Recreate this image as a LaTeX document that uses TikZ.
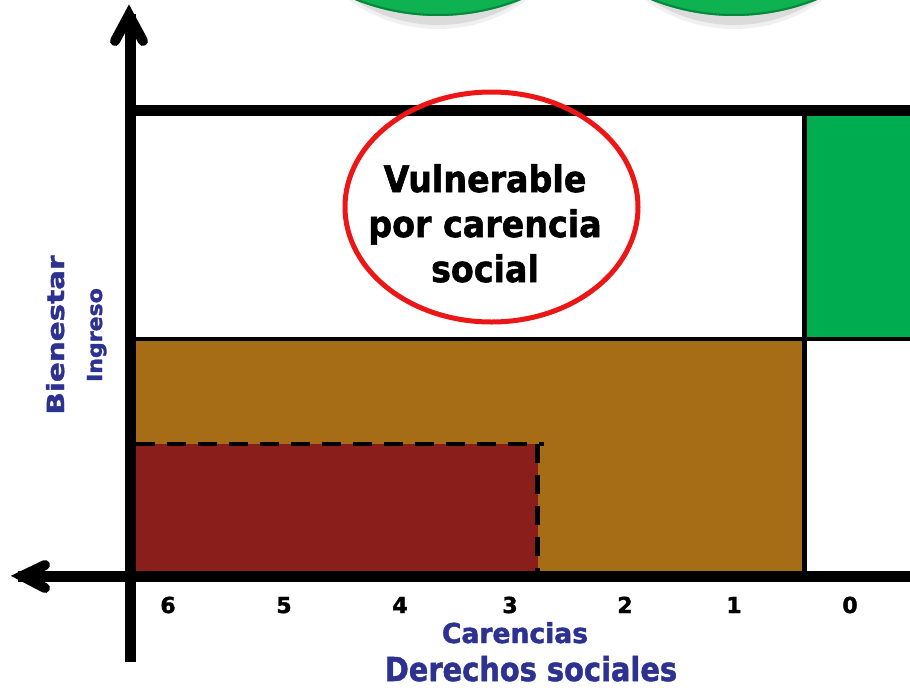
\documentclass[tikz,border=0pt]{standalone}
\usepackage{fontspec}
\setmainfont{DejaVu Sans}
\newfontfamily\heavyfont[FakeBold=1.6]{DejaVu Sans Bold}
\usepackage{graphicx}
\definecolor{circgreen}{RGB}{14,178,80}
\definecolor{circrim}{RGB}{6,135,62}
\definecolor{boxgreen}{RGB}{0,172,80}
\definecolor{boxbrown}{RGB}{166,108,22}
\definecolor{boxred}{RGB}{138,30,26}
\definecolor{labblue}{RGB}{45,50,145}
\definecolor{ellred}{RGB}{236,22,22}
\begin{document}
\begin{tikzpicture}[x=1pt,y=-1pt,
  axisline/.style={line width=11pt, black},
  chevron/.style={line width=10pt, line cap=round, line join=miter, black},
  gridline/.style={black},
  dashline/.style={line width=4.5pt, black, dash pattern=on 19pt off 12pt},
  numlab/.style={anchor=base, inner sep=0pt, font=\fontsize{22}{26}\selectfont\heavyfont},
  elltext/.style={anchor=base, inner sep=0pt, font=\fontsize{36.6}{44}\selectfont\heavyfont},
  bluelab/.style={anchor=base, inner sep=0pt, text=labblue}]
\useasboundingbox (0,0) rectangle (910,691);
\fill[white] (0,0) rectangle (910,691);
% green circles at the top (cut off)
\begin{scope}
  \clip (0,0) rectangle (910,691);
  \foreach \cx in {438,734}{
    \fill[gray!12] (\cx,-121) circle [radius=150];
    \fill[gray!28] (\cx,-125) circle [radius=150];
    \fill[circgreen] (\cx,-207) circle [radius=223];
    \draw[circrim, line width=2pt] (\cx,-207) circle [radius=222];
  }
\end{scope}
% coloured regions
\fill[boxgreen] (804,110) rectangle (910,339);
\fill[boxbrown] (130,339) rectangle (804,576);
\fill[boxred] (130,444) rectangle (537.5,576);
% grid lines
\draw[gridline, line width=4pt] (130,339) -- (910,339);
\draw[gridline, line width=5pt] (804,110) -- (804,576);
\draw[gridline, line width=11pt] (124.5,110) -- (910,110);
% dashed border of the dark red box
\draw[dashline] (136,444) -- (544,444);
\draw[dashline] (537.5,444) -- (537.5,574);
% axes
\coordinate (ybot) at (130,662);
\coordinate (ytop) at (130,14);
\coordinate (xright) at (910,576);
\coordinate (xleft) at (18,576);
\draw[axisline] (ybot) -- (ytop);
\draw[chevron] (115,41) -- (129,15) -- (143,41);
\draw[axisline] (xright) -- (xleft);
\draw[chevron] (45,565) -- (22,576) -- (45,588);
% red ellipse with its text
\draw[ellred, line width=5pt] (491.5,207) ellipse [x radius=146.5, y radius=115];
\node[elltext] (t1) at (485,192) {\scalebox{0.91}[1]{Vulnerable}};
\node[elltext] (t2) at (485,237) {\scalebox{0.91}[1]{por carencia}};
\node[elltext] (t3) at (485,282) {\scalebox{0.91}[1]{social}};
% numbers
\node[numlab] (n6) at (168,613) {6};
\node[numlab] (n5) at (284,613) {5};
\node[numlab] (n4) at (400,613) {4};
\node[numlab] (n3) at (510,613) {3};
\node[numlab] (n2) at (625,613) {2};
\node[numlab] (n1) at (734,613) {1};
\node[numlab] (n0) at (850,613) {0};
% axis labels
\node[bluelab] (car) at (515,643) {\scalebox{0.97}[1]{\fontsize{27.4}{32}\selectfont\heavyfont Carencias}};
\node[bluelab] (der) at (531,681) {\scalebox{0.875}[1]{\fontsize{33}{38}\selectfont\heavyfont Derechos sociales}};
\node[bluelab, rotate=90] (bien) at (64,335) {\scalebox{1.25}[1]{\fontsize{23.5}{28}\selectfont\heavyfont Bienestar}};
\node[bluelab, rotate=90] (ing) at (102,335) {\scalebox{1.07}[1]{\fontsize{20.6}{25}\selectfont\heavyfont Ingreso}};
\end{tikzpicture}
\end{document}
